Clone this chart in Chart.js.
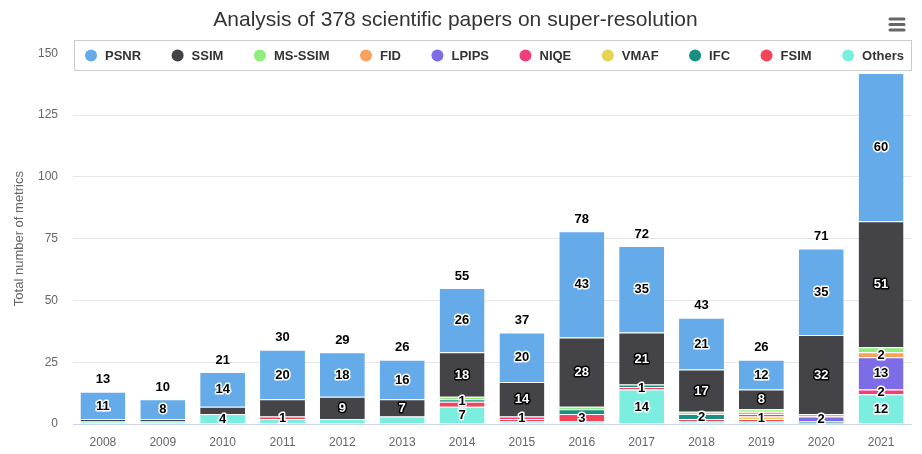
<!DOCTYPE html>
<html>
<head>
<meta charset="utf-8">
<script src="https://cdn.jsdelivr.net/npm/chart.js@4.4.0/dist/chart.umd.min.js"></script>
<style>
  html, body { margin: 0; padding: 0; background: #fff; }
  #wrap { width: 922px; height: 454px; position: relative; }
</style>
</head>
<body>
<div id="wrap"><canvas id="cvs"></canvas></div>
<script>
//-------------------------------------------------------------------
// data
//-------------------------------------------------------------------
const years  = ['2008', '2009', '2010', '2011', '2012', '2013', '2014', '2015', '2016', '2017', '2018', '2019', '2020', '2021'];
const psnr   = [11, 8, 14, 20, 18, 16, 26, 20, 43, 35, 21, 12, 35, 60];
const ssim   = [ 1, 1,  3,  7,  9,  7, 18, 14, 28, 21, 17,  8, 32, 51];
const msssim = [ 0, 0,  0,  0,  0,  0,  1,  0,  1,  0,  1,  1,  0,  2];
const fid    = [ 0, 0,  0,  0,  0,  0,  0,  0,  0,  0,  0,  1,  1,  2];
const lpips  = [ 0, 0,  0,  0,  0,  0,  0,  0,  0,  0,  0,  0,  2, 13];
const niqe   = [ 0, 0,  0,  0,  0,  0,  0,  1,  0,  0,  0,  1,  0,  2];
const vmaf   = [ 0, 0,  0,  0,  0,  0,  0,  0,  0,  0,  0,  1,  0,  0];
const ifc    = [ 0, 0,  0,  0,  0,  0,  1,  0,  2,  1,  2,  0,  1,  0];
const fsim   = [ 0, 0,  0,  1,  0,  0,  2,  1,  3,  1,  1,  1,  0,  0];
const others = [ 1, 1,  4,  2,  2,  3,  7,  1,  1, 14,  1,  1,  0, 12];

const seriesNames  = ['PSNR', 'SSIM', 'MS-SSIM', 'FID', 'LPIPS', 'NIQE', 'VMAF', 'IFC', 'FSIM', 'Others'];
const seriesValues = [psnr, ssim, msssim, fid, lpips, niqe, vmaf, ifc, fsim, others];
const seriesColors = ['#65aae9', '#434348', '#90ed7d', '#f7a35c', '#7c6ce6',
                      '#f13f7a', '#e4d354', '#168f85', '#f4445a', '#7beee0'];

const FONT = '"Liberation Sans", Arial, sans-serif';

//-------------------------------------------------------------------
// utility
//-------------------------------------------------------------------
function contrastColor(hex) {
  const c = [1, 3, 5].map(k => parseInt(hex.substr(k, 2), 16) / 255)
    .map(v => v <= 0.03928 ? v / 12.92 : Math.pow((v + 0.055) / 1.055, 2.4));
  const l = 0.2126 * c[0] + 0.7152 * c[1] + 0.0722 * c[2];
  return 1.05 / (l + 0.05) > (l + 0.05) / 0.05 ? '#ffffff' : '#000000';
}

//-------------------------------------------------------------------
// plugins
//-------------------------------------------------------------------
const segmentLabels = {
  id: 'segmentLabels',
  afterDatasetsDraw(chart) {
    const ctx = chart.ctx;
    const area = chart.chartArea;
    const sets = chart.data.datasets;
    ctx.save();
    ctx.font = 'bold 13px ' + FONT;
    ctx.textAlign = 'center';
    ctx.textBaseline = 'middle';
    ctx.lineJoin = 'round';

    for (let i = 0; i < years.length; i++) {
      const placed = [];
      let total = 0;
      let topY = area.bottom;
      let x = 0;
      // bottom of the stack first
      for (let d = 0; d < sets.length; d++) {
        const v = sets[d].data[i];
        const bar = chart.getDatasetMeta(d).data[i];
        total += v;
        x = bar.x;
        topY = Math.min(topY, bar.y);
        if (!v) continue;
        const cy = (bar.y + bar.base) / 2;
        const t = cy - 7, b = cy + 7;
        if (b > area.bottom + 2.5) continue;
        if (placed.some(p => t < p.b && b > p.t)) continue;
        placed.push({ t, b });
        const fill = contrastColor(sets[d].backgroundColor);
        ctx.lineWidth = 3;
        ctx.strokeStyle = fill === '#000000' ? '#ffffff' : '#000000';
        ctx.strokeText(String(v), bar.x, cy + 0.5);
        ctx.fillStyle = fill;
        ctx.fillText(String(v), bar.x, cy + 0.5);
      }
      ctx.fillStyle = '#000';
      ctx.fillText(String(total), x, topY - 12);
    }
    ctx.restore();
  }
};

const legendBox = {
  id: 'legendBox',
  afterDraw(chart) {
    const ctx = chart.ctx;
    ctx.save();
    ctx.font = 'bold 13px ' + FONT;
    const x0 = 74.5, y0 = 40.5, w = 837, h = 30;
    ctx.fillStyle = '#fff';
    ctx.fillRect(x0, y0, w, h);
    ctx.strokeStyle = '#cccccc';
    ctx.lineWidth = 1;
    ctx.strokeRect(x0, y0, w, h);

    const widths = seriesNames.map(n => 12 + 8 + ctx.measureText(n).width);
    const sum = widths.reduce((a, b) => a + b, 0);
    const startX = 85, endX = 904;
    const gap = (endX - startX - sum) / (seriesNames.length - 1);
    const cy = y0 + h / 2;
    let x = startX;
    ctx.textAlign = 'left';
    ctx.textBaseline = 'middle';
    seriesNames.forEach((n, i) => {
      ctx.fillStyle = seriesColors[i];
      ctx.beginPath();
      ctx.arc(x + 6, cy, 6, 0, 2 * Math.PI);
      ctx.fill();
      ctx.fillStyle = '#333333';
      ctx.fillText(n, x + 20, cy + 1);
      x += widths[i] + gap;
    });

    // menu button
    ctx.strokeStyle = '#666666';
    ctx.lineWidth = 3;
    ctx.lineCap = 'round';
    for (let k = 0; k < 3; k++) {
      ctx.beginPath();
      ctx.moveTo(890, 19 + k * 5.5);
      ctx.lineTo(904, 19 + k * 5.5);
      ctx.stroke();
    }
    ctx.restore();
  }
};

//-------------------------------------------------------------------
// chart
//-------------------------------------------------------------------
// first series sits on top of the stack, so feed them in reverse
const datasets = seriesNames.map((name, i) => ({
  label: name,
  data: seriesValues[i],
  backgroundColor: seriesColors[i],
  borderColor: '#ffffff',
  borderWidth: { top: 1, left: 0, right: 0, bottom: 0 },
  borderSkipped: false,
  barPercentage: 0.75,
  categoryPercentage: 1.0
})).reverse();

new Chart(document.getElementById('cvs').getContext('2d'), {
  type: 'bar',
  data: { labels: years, datasets: datasets },
  options: {
    responsive: true,
    maintainAspectRatio: false,
    animation: false,
    layout: { padding: { left: 0, right: 11, top: 0, bottom: 0 } },
    plugins: {
      legend: { display: false },
      tooltip: { enabled: false },
      title: {
        display: true,
        text: 'Analysis of 378 scientific papers on super-resolution',
        color: '#333333',
        font: { family: FONT, size: 21, weight: 'normal' },
        padding: { top: 8, bottom: 20 }
      }
    },
    scales: {
      x: {
        stacked: true,
        grid: { display: false },
        border: { color: '#ccd6eb' },
        ticks: { color: '#666666', font: { family: FONT, size: 12 }, padding: 3 },
        afterFit(scale) { scale.height = 30; }
      },
      y: {
        stacked: true,
        min: 0,
        max: 150,
        ticks: { stepSize: 25, color: '#666666', font: { family: FONT, size: 12 }, padding: 15 },
        grid: { color: '#e6e6e6', drawTicks: false },
        border: { display: false },
        title: {
          display: true,
          text: 'Total number of metrics',
          color: '#666666',
          font: { family: FONT, size: 13 },
          padding: { top: 12, bottom: 0 }
        },
        afterFit(scale) { scale.width = 73; }
      }
    }
  },
  plugins: [segmentLabels, legendBox]
});
</script>
</body>
</html>
